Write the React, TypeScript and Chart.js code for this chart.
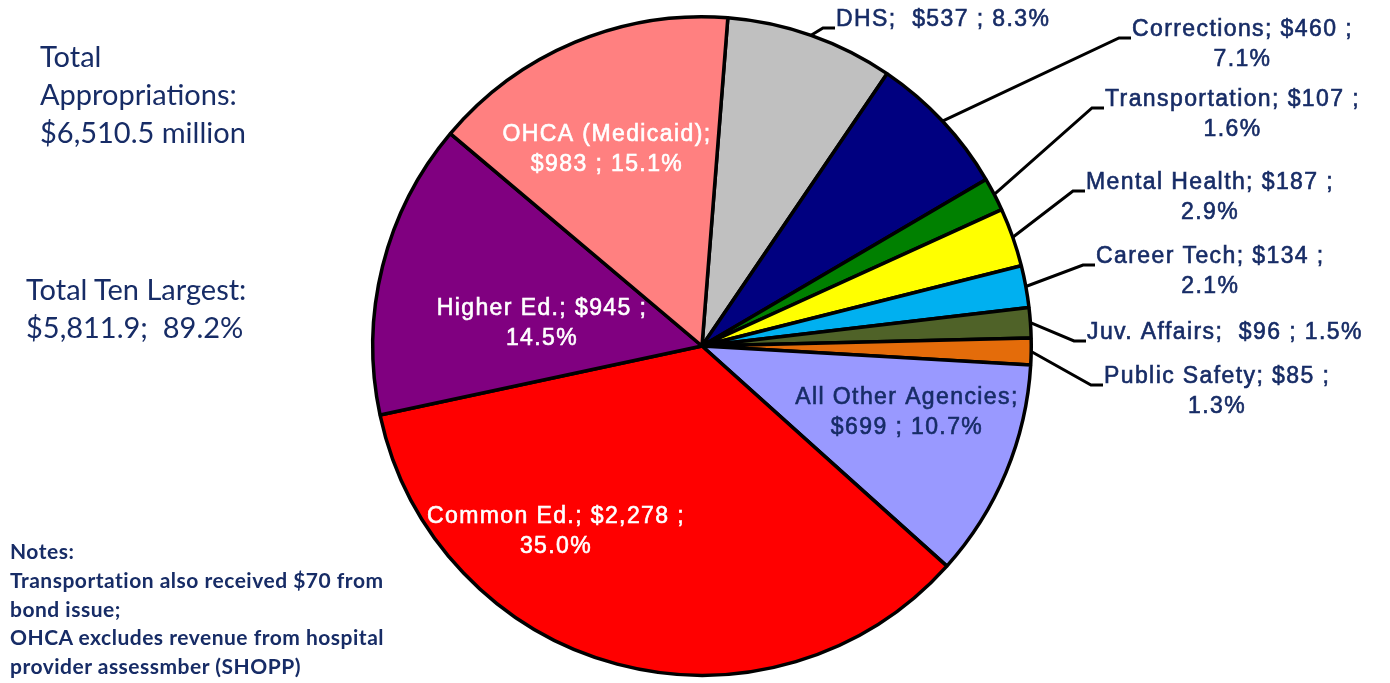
import { useEffect, useRef } from "react";
import { Chart, registerables } from "chart.js";

Chart.register(...registerables);

// ---- data ----
const agencies = [
  "DHS",
  "Corrections",
  "Transportation",
  "Mental Health",
  "Career Tech",
  "Juv. Affairs",
  "Public Safety",
  "All Other Agencies",
  "Common Ed.",
  "Higher Ed.",
  "OHCA (Medicaid)",
];
const amounts = [537, 460, 107, 187, 134, 96, 85, 699, 2278, 945, 983];
const shares = [8.3, 7.1, 1.6, 2.9, 2.1, 1.5, 1.3, 10.7, 35.0, 14.5, 15.1];
const sliceColors = [
  "#C0C0C0",
  "#000080",
  "#008000",
  "#FFFF00",
  "#00B0F0",
  "#4F6228",
  "#E46C0A",
  "#9999FF",
  "#FF0000",
  "#800080",
  "#FF8080",
];

// ---- label layout (not data) ----
const lineBreaks = ["none", "pct", "pct", "pct", "pct", "none", "pct", "name", "pct", "pct", "name"];
const labelColors = ["navy", "navy", "navy", "navy", "navy", "navy", "navy", "navy", "white", "white", "white"];
// outside: x = left edge of text, y = centre of first line; inside: centre of block
const labelSpots = [
  { outside: true, x: 836, y: 20 },
  { outside: true, x: 1132, y: 30 },
  { outside: true, x: 1105, y: 100 },
  { outside: true, x: 1086, y: 183 },
  { outside: true, x: 1096, y: 257 },
  { outside: true, x: 1087, y: 333 },
  { outside: true, x: 1104, y: 377 },
  { outside: false, x: 907, y: 413 },
  { outside: false, x: 556, y: 532 },
  { outside: false, x: 542, y: 324 },
  { outside: false, x: 607, y: 150 },
];

const NAVY = "#172C66";
const LABEL_FONT = "23px 'Liberation Sans', Arial, sans-serif";
const LINE_H = 30;

function labelLines(i: number): string[] {
  const name = agencies[i];
  const amt = "$" + amounts[i].toLocaleString("en-US");
  const pct = shares[i].toFixed(1) + "%";
  const mode = lineBreaks[i];
  if (mode === "pct") return [`${name}; ${amt} ;`, pct];
  if (mode === "name") return [`${name};`, `${amt} ; ${pct}`];
  return [`${name};  ${amt} ; ${pct}`];
}

const labelPlugin = {
  id: "sliceLabels",
  afterDatasetsDraw(chart: any) {
    const ctx: CanvasRenderingContext2D = chart.ctx;
    const meta = chart.getDatasetMeta(0);
    ctx.save();
    ctx.font = LABEL_FONT;
    (ctx as any).letterSpacing = "1.4px";
    ctx.textBaseline = "middle";
    ctx.textAlign = "center";
    meta.data.forEach((arc: any, i: number) => {
      const { x, y, startAngle, endAngle, outerRadius } = arc.getProps(
        ["x", "y", "startAngle", "endAngle", "outerRadius"],
        true
      );
      const lines = labelLines(i);
      const spot = labelSpots[i];
      const color = labelColors[i] === "white" ? "#FFFFFF" : NAVY;
      if (spot.outside) {
        const mid = (startAngle + endAngle) / 2;
        const ax = x + Math.cos(mid) * outerRadius;
        const ay = y + Math.sin(mid) * outerRadius;
        const ex = spot.x - 13;
        const ey = spot.y + 8;
        ctx.strokeStyle = "#000";
        ctx.lineWidth = 3;
        ctx.beginPath();
        ctx.moveTo(ax, ay);
        ctx.lineTo(ex, ey);
        ctx.lineTo(spot.x - 1, ey);
        ctx.stroke();
      }
      ctx.fillStyle = color;
      ctx.strokeStyle = color;
      ctx.lineWidth = 0.6;
      const draw = (l: string, tx: number, ty: number) => {
        ctx.fillText(l, tx, ty);
        ctx.strokeText(l, tx, ty);
      };
      if (spot.outside) {
        const w = Math.max(...lines.map((l) => ctx.measureText(l).width));
        const cx = spot.x + w / 2;
        lines.forEach((l, k) => draw(l, cx, spot.y + k * LINE_H));
      } else {
        const top = spot.y - ((lines.length - 1) * LINE_H) / 2;
        lines.forEach((l, k) => draw(l, spot.x, top + k * LINE_H));
      }
    });
    ctx.restore();
  },
};

export default function App() {
  const canvasRef = useRef<HTMLCanvasElement | null>(null);

  useEffect(() => {
    if (!canvasRef.current) return;
    const chart = new Chart(canvasRef.current, {
      type: "pie",
      data: {
        labels: agencies,
        datasets: [
          {
            data: amounts,
            backgroundColor: sliceColors,
            borderColor: "#000000",
            borderWidth: 3.5,
          },
        ],
      },
      options: {
        animation: false,
        responsive: false,
        devicePixelRatio: 1,
        rotation: 4.5,
        layout: { padding: { left: 371, top: 15, right: 357, bottom: 6 } },
        plugins: {
          legend: { display: false },
          tooltip: { enabled: false },
        },
      },
      plugins: [labelPlugin],
    });
    return () => chart.destroy();
  }, []);

  const sideText: React.CSSProperties = {
    position: "absolute",
    fontFamily: "Lato, 'Open Sans', sans-serif",
    color: NAVY,
    whiteSpace: "nowrap",
  };

  return (
    <div style={{ position: "fixed", left: 0, top: 0, width: 1390, height: 683, background: "#fff" }}>
      <canvas ref={canvasRef} width={1390} height={683} style={{ position: "absolute", left: 0, top: 0 }} />
      <div style={{ ...sideText, left: 40, top: 37, fontSize: 29, lineHeight: "38px" }}>
        Total
        <br />
        Appropriations:
        <br />
        $6,510.5 million
      </div>
      <div style={{ ...sideText, left: 26, top: 270, fontSize: 29, lineHeight: "38px" }}>
        Total Ten Largest:
        <br />
        $5,811.9;&nbsp; 89.2%
      </div>
      <div
        style={{
          ...sideText,
          left: 10,
          top: 537,
          fontSize: 21,
          lineHeight: "28.8px",
          fontWeight: 700,
          letterSpacing: "0.5px",
        }}
      >
        Notes:
        <br />
        Transportation also received $70 from
        <br />
        bond issue;
        <br />
        OHCA excludes revenue from hospital
        <br />
        provider assessmber (SHOPP)
      </div>
    </div>
  );
}
